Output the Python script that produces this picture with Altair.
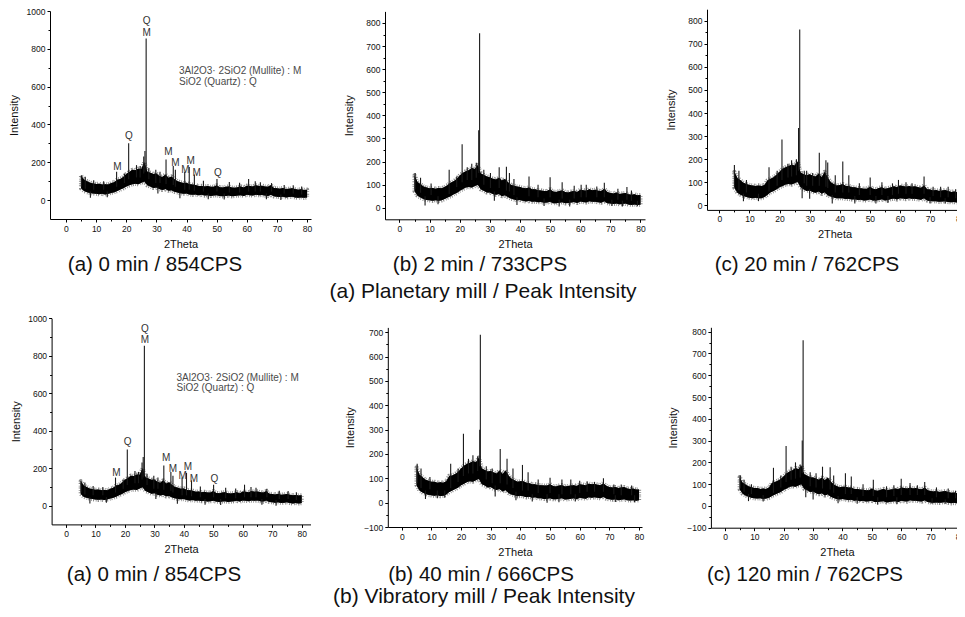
import altair as alt
import pandas as pd

# ---------------- data ----------------
two_theta = [5, 6, 7, 8, 9, 10, 11, 12, 13, 14, 15, 16, 17, 18, 19, 20, 21, 22, 23, 24,
             25, 26, 27, 28, 29, 30, 31, 32, 33, 34, 35, 36, 37, 38, 39, 40, 41, 42, 43, 44,
             45, 46, 47, 48, 49, 50, 51, 52, 53, 54, 55, 56, 57, 58, 59, 60, 61, 62, 63, 64,
             65, 66, 67, 68, 69, 70, 71, 72, 73, 74, 75, 76, 77, 78, 79, 80]

# (a) 0 min  (same pattern in both rows)
a0_hi = [130, 108, 100, 92, 88, 85, 86, 82, 84, 82,
         90, 95, 108, 112, 122, 138, 148, 160, 158, 166,
         165, 200, 150, 145, 138, 140, 128, 122, 135, 118,
         125, 110, 100, 95, 90, 92, 84, 82, 80, 74,
         75, 72, 74, 70, 70, 78, 68, 66, 70, 72,
         66, 65, 68, 72, 66, 76, 74, 72, 78, 74,
         76, 72, 70, 78, 64, 62, 60, 64, 58, 60,
         62, 58, 55, 57, 54, 55]
a0_lo = [62, 48, 42, 38, 35, 33, 31, 33, 30, 33,
         38, 42, 48, 56, 62, 72, 78, 84, 86, 84,
         92, 98, 78, 72, 64, 66, 58, 54, 58, 50,
         52, 44, 40, 36, 34, 35, 30, 28, 30, 26,
         28, 24, 26, 22, 24, 26, 22, 20, 22, 24,
         20, 22, 24, 26, 22, 28, 26, 24, 28, 26,
         27, 24, 22, 28, 20, 18, 16, 18, 14, 16,
         18, 14, 12, 14, 12, 14]
a0_spike_x = [5.1, 6.4, 9.2, 12.5, 16.8, 19.4, 20.8, 23.4, 24.6, 25.8, 26.2, 26.6, 27.5, 29.8, 31.2, 33.2,
              35.6, 36.3, 39.4, 40.9, 42.6, 45.6, 50.1, 54.2, 57.6, 60.6, 62.8, 64.5, 68.2, 72.4, 75.4, 78.2]
a0_spike_top = [132, 124, 105, 100, 150, 140, 300, 185, 180, 230, 260, 854, 170, 160, 150, 215,
                180, 160, 150, 175, 135, 102, 112, 96, 92, 112, 100, 95, 90, 80, 78, 72]
a0_spike_base = [70, 60, 55, 55, 70, 90, 110, 120, 120, 140, 150, 160, 110, 90, 90, 85,
                 80, 70, 55, 55, 50, 45, 45, 40, 40, 45, 45, 45, 45, 35, 35, 30]
a0_dip_x = [8.1, 13.7, 30.5, 37.8, 47.2, 52.5, 66.5, 71.3]
a0_dip_low = [12, 15, 35, 10, 5, 3, 5, 0]
a0_dip_base = [45, 45, 70, 40, 35, 35, 35, 30]

# (b) 2 min, planetary
p2_hi = [140, 112, 102, 92, 88, 84, 86, 82, 85, 84,
         90, 98, 108, 115, 125, 140, 150, 158, 162, 172,
         168, 185, 148, 142, 135, 132, 126, 122, 130, 118,
         125, 110, 100, 95, 92, 90, 86, 84, 88, 80,
         80, 76, 75, 72, 72, 80, 70, 68, 72, 75,
         68, 66, 70, 72, 68, 78, 76, 74, 80, 76,
         78, 74, 72, 82, 68, 64, 62, 66, 60, 62,
         64, 58, 56, 58, 54, 55]
p2_lo = [72, 52, 44, 38, 34, 32, 30, 33, 30, 32,
         38, 44, 50, 58, 64, 74, 80, 88, 90, 88,
         94, 100, 80, 74, 66, 66, 60, 56, 60, 50,
         54, 46, 40, 36, 32, 34, 30, 27, 30, 26,
         27, 24, 25, 22, 23, 26, 20, 20, 22, 24,
         19, 21, 23, 25, 21, 27, 25, 23, 28, 26,
         26, 24, 22, 28, 20, 18, 16, 18, 15, 16,
         18, 14, 12, 14, 12, 13]
p2_spike_x = [5.2, 7.0, 10.5, 16.5, 19.0, 20.8, 22.5, 24.0, 25.5, 26.3, 26.6, 28.0, 30.2, 33.1, 35.5,
              36.5, 38.0, 43.0, 46.0, 50.0, 54.0, 58.0, 60.3, 62.0, 65.5, 68.0, 72.5, 75.5, 77.0]
p2_spike_top = [150, 130, 105, 165, 135, 275, 175, 190, 195, 335, 755, 165, 150, 175, 178,
                150, 125, 135, 100, 132, 110, 95, 100, 100, 92, 108, 82, 90, 75]
p2_spike_base = [80, 65, 55, 60, 90, 110, 120, 120, 130, 150, 160, 100, 85, 85, 75,
                 70, 55, 50, 45, 45, 40, 40, 45, 45, 45, 45, 35, 35, 30]
p2_dip_x = [8.5, 12.8, 31.5, 39.0, 48.0, 53.0, 56.5, 70.5, 74.0, 79.0]
p2_dip_low = [10, 15, 30, 12, 8, 5, 5, 8, 5, 8]
p2_dip_base = [50, 50, 70, 45, 40, 35, 35, 35, 30, 30]

# (c) 20 min, planetary
p20_hi = [145, 118, 108, 98, 92, 88, 86, 84, 86, 84,
          88, 108, 115, 122, 132, 145, 158, 165, 170, 176,
          172, 190, 142, 135, 130, 135, 128, 125, 138, 122,
          145, 120, 100, 92, 86, 88, 92, 84, 84, 78,
          78, 75, 74, 72, 72, 80, 72, 70, 75, 78,
          72, 74, 78, 82, 78, 86, 84, 80, 84, 80,
          82, 78, 76, 86, 70, 68, 64, 66, 62, 64,
          66, 62, 58, 60, 56, 56]
p20_lo = [76, 54, 46, 40, 36, 33, 31, 33, 30, 31,
          36, 46, 56, 62, 70, 78, 84, 90, 92, 90,
          96, 102, 78, 70, 62, 64, 58, 54, 60, 50,
          56, 44, 38, 34, 30, 31, 30, 27, 28, 25,
          26, 23, 24, 21, 22, 25, 21, 21, 23, 26,
          21, 23, 27, 29, 25, 31, 29, 27, 30, 28,
          28, 26, 24, 30, 21, 19, 17, 18, 15, 16,
          17, 14, 13, 14, 12, 12]
p20_spike_x = [5.0, 6.5, 9.0, 16.5, 19.2, 20.8, 22.8, 24.0, 25.6, 26.3, 26.7, 28.2, 29.0, 31.0, 33.2, 35.4,
               36.0, 38.5, 41.0, 43.0, 46.5, 50.1, 54.0, 57.5, 59.5, 62.0, 64.0, 68.0, 71.0, 73.5, 76.0, 78.5]
p20_spike_top = [175, 150, 110, 165, 150, 285, 180, 195, 200, 335, 762, 150, 150, 140, 228, 195,
                 185, 130, 190, 130, 95, 120, 100, 95, 110, 100, 95, 125, 80, 80, 80, 70]
p20_spike_base = [80, 65, 55, 60, 85, 110, 120, 125, 130, 150, 160, 95, 85, 85, 85, 80,
                  75, 55, 55, 55, 45, 45, 45, 45, 50, 50, 50, 50, 40, 35, 35, 30]
p20_dip_x = [8.0, 13.0, 27.5, 30.0, 37.5, 45.0, 52.0, 56.0, 70.0, 75.0]
p20_dip_low = [18, 18, 30, 28, 8, 8, 8, 10, 8, 8]
p20_dip_base = [50, 50, 80, 70, 45, 40, 40, 40, 35, 30]

# (b) 40 min, vibratory
v40_hi = [145, 115, 104, 94, 90, 86, 86, 82, 84, 82,
          88, 110, 112, 118, 126, 140, 152, 160, 164, 170,
          166, 185, 140, 134, 128, 130, 124, 120, 132, 118,
          132, 112, 98, 92, 86, 88, 88, 82, 80, 76,
          76, 72, 72, 70, 70, 76, 68, 66, 70, 72,
          66, 68, 70, 72, 68, 76, 74, 72, 78, 76,
          77, 74, 72, 80, 68, 64, 62, 64, 60, 62,
          64, 58, 56, 58, 54, 54]
v40_lo = [72, 50, 42, 36, 32, 30, 28, 30, 27, 28,
          34, 44, 50, 56, 62, 72, 78, 85, 88, 86,
          92, 98, 76, 70, 62, 64, 56, 52, 56, 46,
          52, 40, 34, 30, 26, 28, 26, 22, 24, 20,
          22, 18, 18, 15, 16, 18, 14, 14, 16, 18,
          13, 14, 16, 18, 14, 20, 18, 16, 22, 20,
          22, 20, 18, 24, 16, 14, 12, 14, 10, 12,
          14, 10, 9, 10, 8, 10]
v40_spike_x = [5.2, 6.5, 9.5, 16.5, 19.0, 20.8, 22.5, 24.0, 25.6, 26.3, 26.5, 28.5, 30.5, 33.2, 35.5,
               37.5, 40.7, 42.6, 46.0, 50.0, 54.0, 57.0, 60.0, 62.5, 65.0, 68.0, 71.5, 74.0, 77.5]
v40_spike_top = [160, 140, 105, 160, 140, 283, 180, 195, 190, 300, 690, 150, 140, 220, 180,
                 140, 155, 125, 95, 102, 95, 95, 90, 88, 85, 100, 75, 75, 70]
v40_spike_base = [80, 60, 55, 60, 85, 110, 120, 120, 130, 150, 160, 95, 80, 80, 75,
                  60, 50, 50, 40, 40, 35, 35, 40, 45, 45, 45, 35, 30, 30]
v40_dip_x = [8.0, 12.0, 14.5, 31.5, 38.5, 44.0, 49.0, 53.0, 58.5, 72.0, 78.5]
v40_dip_low = [15, 18, 20, 25, 10, 5, 0, 2, 5, 3, 2]
v40_dip_base = [50, 50, 50, 70, 45, 35, 35, 35, 35, 30, 30]

# (c) 120 min, vibratory
v120_hi = [132, 106, 98, 90, 86, 82, 82, 78, 80, 78,
           84, 106, 110, 116, 124, 136, 150, 158, 164, 174,
           168, 186, 145, 138, 132, 130, 126, 120, 130, 118,
           130, 112, 98, 92, 86, 88, 88, 84, 84, 78,
           78, 75, 74, 72, 72, 80, 72, 70, 74, 78,
           72, 74, 76, 80, 76, 84, 82, 80, 84, 80,
           82, 78, 76, 84, 72, 68, 66, 68, 64, 66,
           68, 64, 60, 62, 58, 58]
v120_lo = [76, 56, 48, 42, 38, 35, 34, 35, 32, 34,
           38, 46, 52, 58, 64, 74, 80, 88, 90, 88,
           94, 100, 78, 72, 64, 66, 58, 54, 58, 48,
           54, 42, 36, 32, 30, 32, 30, 26, 28, 24,
           26, 22, 24, 20, 22, 24, 18, 18, 20, 22,
           16, 18, 20, 22, 18, 24, 22, 20, 26, 24,
           24, 22, 20, 26, 18, 16, 14, 16, 14, 16,
           18, 14, 12, 14, 12, 14]
v120_spike_x = [5.2, 6.5, 9.0, 16.5, 19.0, 20.8, 22.5, 24.0, 25.6, 26.3, 26.6, 29.0, 31.0, 33.2, 35.8,
                37.0, 41.0, 43.0, 47.0, 50.5, 55.0, 57.5, 60.0, 63.0, 65.5, 68.0, 72.0, 76.0, 78.5]
v120_spike_top = [140, 120, 100, 175, 140, 275, 180, 200, 190, 300, 760, 155, 150, 180, 178,
                  140, 150, 135, 100, 120, 90, 95, 125, 105, 95, 110, 85, 80, 70]
v120_spike_base = [80, 65, 55, 60, 85, 110, 120, 125, 130, 150, 160, 90, 85, 80, 75,
                   60, 55, 55, 45, 45, 40, 45, 50, 50, 50, 50, 40, 35, 35]
v120_dip_x = [8.0, 13.0, 27.5, 30.0, 38.5, 45.0, 52.0, 58.5, 70.5, 75.0]
v120_dip_low = [22, 20, 40, 30, 12, 10, 5, 8, 10, 10]
v120_dip_base = [55, 50, 80, 70, 45, 40, 40, 40, 35, 30]

# phase markers on the 0 min pattern
phase_labels = ["Q", "M", "Q", "M", "M", "M", "M", "M", "M", "Q"]
phase_x = [26.8, 26.8, 20.9, 17.1, 34.0, 36.3, 39.6, 41.4, 43.4, 50.4]
phase_y = [945, 886, 338, 176, 253, 196, 160, 208, 143, 142]
legend_lines = ["3Al2O3\u00b7  2SiO2 (Mullite) : M", "SiO2 (Quartz) : Q"]
legend_x = [37.5, 37.5]
legend_y = [683, 627]

captions = ["(a) 0 min / 854CPS", "(b) 2 min / 733CPS", "(c) 20 min / 762CPS",
            "(a) 0 min / 854CPS", "(b) 40 min / 666CPS", "(c) 120 min / 762CPS"]
row_titles = ["(a) Planetary mill / Peak Intensity", "(b) Vibratory mill / Peak Intensity"]

x_major = [0, 10, 20, 30, 40, 50, 60, 70, 80]
x_minor = [5, 15, 25, 35, 45, 55, 65, 75]
y_major_1000 = [0, 200, 400, 600, 800, 1000]
y_minor_1000 = [100, 300, 500, 700, 900]
y_major_800 = [0, 100, 200, 300, 400, 500, 600, 700, 800]
y_minor_800 = [50, 150, 250, 350, 450, 550, 650, 750]
y_major_neg = [-100, 0, 100, 200, 300, 400, 500, 600, 700, 800]
y_minor_neg = [-50, 50, 150, 250, 350, 450, 550, 650, 750]

# ---------------- layout (pixels inside the 949 x 601 chart) ----------------
W, H = 949, 601
FONT = "Liberation Sans"

panels = [
    dict(hi=a0_hi, lo=a0_lo, sx=a0_spike_x, st=a0_spike_top, sb=a0_spike_base,
         dx=a0_dip_x, dl=a0_dip_low, db=a0_dip_base,
         xdom=[-5.3, 81.3], xr=[42, 303], ydom=[-100, 1000], yr=[211, 3],
         ymaj=y_major_1000, ymin=y_minor_1000, ypad=6.5, marks=True),
    dict(hi=p2_hi, lo=p2_lo, sx=p2_spike_x, st=p2_spike_top, sb=p2_spike_base,
         dx=p2_dip_x, dl=p2_dip_low, db=p2_dip_base,
         xdom=[-4.8, 81.5], xr=[377, 637], ydom=[-50, 850], yr=[211.3, 3.4],
         ymaj=y_major_800, ymin=y_minor_800, ypad=11.5, marks=False),
    dict(hi=p20_hi, lo=p20_lo, sx=p20_spike_x, st=p20_spike_top, sb=p20_spike_base,
         dx=p20_dip_x, dl=p20_dip_low, db=p20_dip_base,
         xdom=[-4.1, 80.6], xr=[699, 954], ydom=[-20, 850], yr=[201.9, 1.2],
         ymaj=y_major_800, ymin=y_minor_800, ypad=11.5, marks=False),
    dict(hi=a0_hi, lo=a0_lo, sx=a0_spike_x, st=a0_spike_top, sb=a0_spike_base,
         dx=a0_dip_x, dl=a0_dip_low, db=a0_dip_base,
         xdom=[-4.9, 83.0], xr=[43.6, 302.5], ydom=[-100, 1000], yr=[516.4, 310.3],
         ymaj=y_major_1000, ymin=y_minor_1000, ypad=6.5, marks=True),
    dict(hi=v40_hi, lo=v40_lo, sx=v40_spike_x, st=v40_spike_top, sb=v40_spike_base,
         dx=v40_dip_x, dl=v40_dip_low, db=v40_dip_base,
         xdom=[-4.7, 81.0], xr=[379.8, 634], ydom=[-100, 720], yr=[519, 319.4],
         ymaj=y_major_neg[:9], ymin=y_minor_neg[:9], ypad=8, marks=False),
    dict(hi=v120_hi, lo=v120_lo, sx=v120_spike_x, st=v120_spike_top, sb=v120_spike_base,
         dx=v120_dip_x, dl=v120_dip_low, db=v120_dip_base,
         xdom=[-4.8, 81.0], xr=[702.9, 954.9], ydom=[-100, 820], yr=[519.7, 319.3],
         ymaj=y_major_neg, ymin=y_minor_neg, ypad=8.5, marks=False),
]
caption_pos = [(147, 257), (472, 257), (799, 257), (146, 567), (473, 567), (797, 567)]
row_title_pos = [(475, 284), (476, 589)]

AX = dict(grid=False, domainColor="black", tickColor="black", domainWidth=1, tickWidth=1)


def major_x(off):
    return alt.Axis(orient="bottom", offset=off, values=x_major, tickSize=3, format="d",
                    labelFont=FONT, labelFontSize=8.5, labelColor="#111", labelPadding=2,
                    labelFlush=False, labelOverlap=False, title="2Theta", titleFont=FONT,
                    titleFontSize=11, titleFontWeight="normal", titleColor="#111",
                    titlePadding=5.5, **AX)


def minor_x(off):
    return alt.Axis(orient="bottom", offset=off, values=x_minor, tickSize=2,
                    labels=False, domain=False, title="", **AX)


def major_y(off, vals, pad):
    return alt.Axis(orient="left", offset=off, values=vals, tickSize=3, format="d",
                    labelFont=FONT, labelFontSize=8.5, labelColor="#111", labelPadding=2,
                    labelFlush=False, labelOverlap=False, title="Intensity", titleFont=FONT,
                    titleFontSize=11, titleFontWeight="normal", titleColor="#111",
                    titlePadding=pad, **AX)


def minor_y(off, vals):
    return alt.Axis(orient="left", offset=off, values=vals, tickSize=2,
                    labels=False, domain=False, title="", **AX)


layers = []
for p in panels:
    xs = alt.Scale(domain=p["xdom"], range=p["xr"], nice=False, zero=False)
    ys = alt.Scale(domain=p["ydom"], range=p["yr"], nice=False, zero=False)
    xoff = p["yr"][0] - H
    yoff = -p["xr"][0]
    band = pd.DataFrame({"t": two_theta, "lo": p["lo"], "hi": p["hi"]})
    spikes = pd.DataFrame({"x": p["sx"] + p["dx"], "top": p["st"] + p["dl"],
                           "base": p["sb"] + p["db"]})
    # fuzzy grey noise fringe: a dashed thick outline around the band
    fringe = alt.Chart(band).mark_area(fill="black", stroke="#8a8a8a", strokeWidth=4.2,
                                       strokeDash=[1, 1.7, 0.8, 1.1],
                                       strokeJoin="round").encode(
        x=alt.X("t:Q", scale=xs, axis=major_x(xoff)),
        y=alt.Y("lo:Q", scale=ys, axis=major_y(yoff, p["ymaj"], p["ypad"])),
        y2="hi:Q")
    core = alt.Chart(band).mark_area(fill="black").encode(
        x=alt.X("t:Q", scale=xs, axis=None),
        y=alt.Y("lo:Q", scale=ys, axis=None),
        y2="hi:Q")
    rules = alt.Chart(spikes).mark_rule(color="#1a1a1a", strokeWidth=1.1).encode(
        x=alt.X("x:Q", scale=xs, axis=minor_x(xoff)),
        y=alt.Y("top:Q", scale=ys, axis=minor_y(yoff, p["ymin"])),
        y2="base:Q")
    layers += [fringe, core, rules]
    if p["marks"]:
        marks = pd.DataFrame({"x": phase_x, "y": phase_y, "label": phase_labels})
        layers.append(alt.Chart(marks).mark_text(font=FONT, fontSize=10, color="#333").encode(
            x=alt.X("x:Q", scale=xs, axis=None),
            y=alt.Y("y:Q", scale=ys, axis=None),
            text="label:N"))
        leg = pd.DataFrame({"x": legend_x, "y": legend_y, "label": legend_lines})
        layers.append(alt.Chart(leg).mark_text(font=FONT, fontSize=10, color="#4a4a4a",
                                               align="left").encode(
            x=alt.X("x:Q", scale=xs, axis=None),
            y=alt.Y("y:Q", scale=ys, axis=None),
            text="label:N"))

for cap, (cx, cy) in zip(captions, caption_pos):
    layers.append(alt.Chart(pd.DataFrame({"label": [cap]})).mark_text(
        font=FONT, fontSize=20.5, color="#111", align="center", baseline="middle").encode(
        text="label:N", x=alt.value(cx), y=alt.value(cy)))

for tt, (cx, cy) in zip(row_titles, row_title_pos):
    layers.append(alt.Chart(pd.DataFrame({"label": [tt]})).mark_text(
        font=FONT, fontSize=21, color="#111", align="center", baseline="middle").encode(
        text="label:N", x=alt.value(cx), y=alt.value(cy)))

chart = alt.layer(*layers).resolve_scale(x="independent", y="independent").resolve_axis(
    x="independent", y="independent").properties(
    width=W, height=H, padding=0, autosize=alt.AutoSizeParams(type="none"),
    background="white").configure_view(stroke=None)

chart.save("out.html", embed_options={"renderer": "svg", "actions": False})
